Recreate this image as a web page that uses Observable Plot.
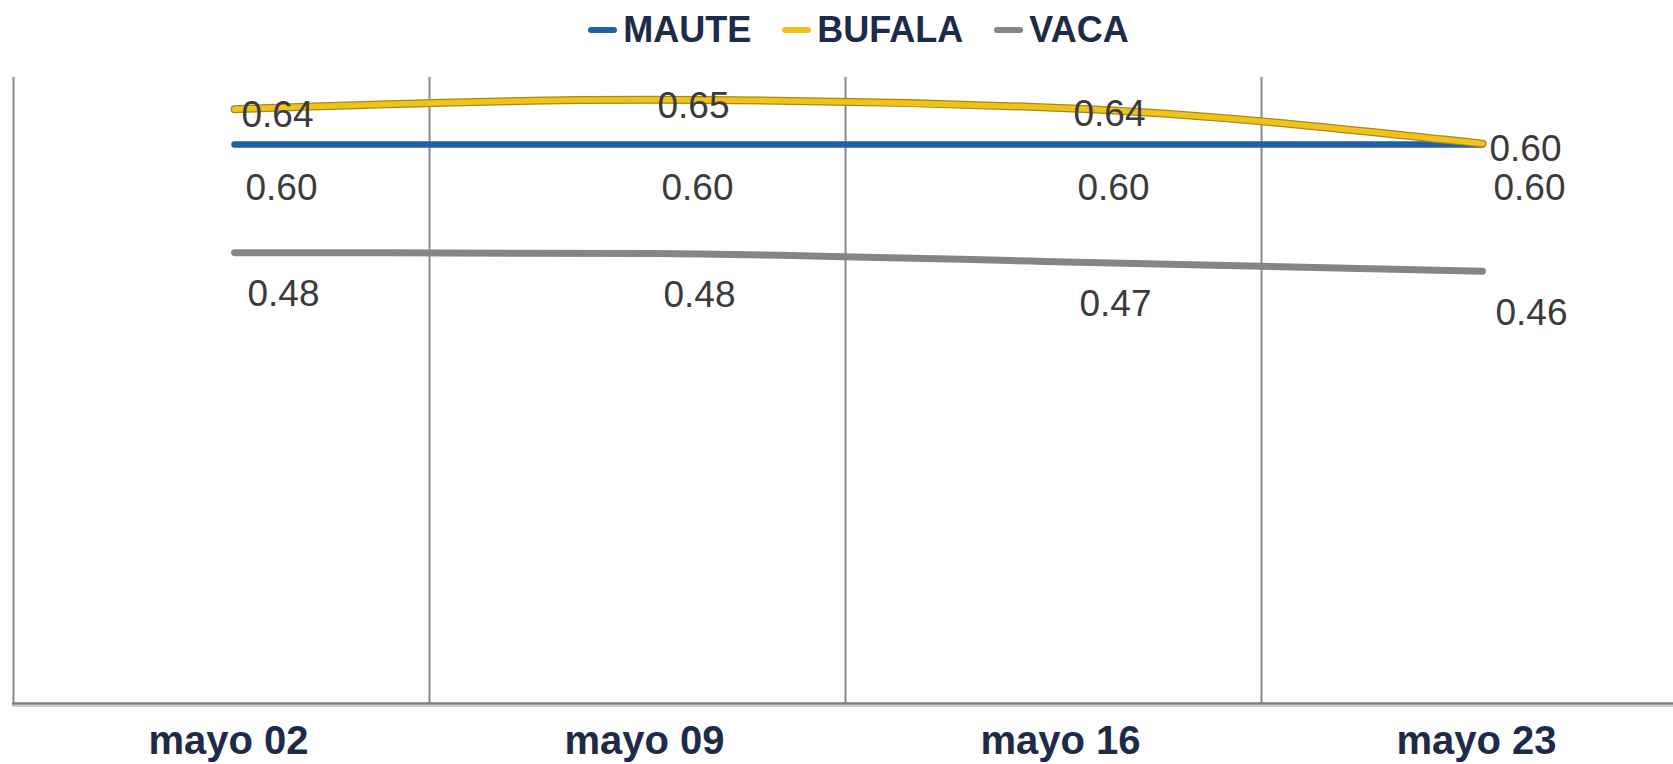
<!DOCTYPE html>
<html><head><meta charset="utf-8">
<script src="https://cdn.jsdelivr.net/npm/d3@7"></script>
<script src="https://cdn.jsdelivr.net/npm/@observablehq/plot@0.6"></script>
<style>
body{margin:0;background:#fff;font-family:"Liberation Sans",Arial,sans-serif;}
#legend{height:60px;display:flex;align-items:center;justify-content:center;padding-left:44px;box-sizing:border-box;}
.item{display:flex;align-items:center;margin:0 15.5px;font-weight:bold;font-size:36px;color:#1c2b48;line-height:1;}
.sw{width:29px;height:6px;border-radius:3px;margin-right:6px;}
#chart svg{display:block;overflow:visible;}
</style></head><body>
<div id="legend"></div>
<div id="chart"></div>
<script>
const fechas = ["mayo 02", "mayo 09", "mayo 16", "mayo 23"];
const series = ["MAUTE", "BUFALA", "VACA"];
const maute  = [0.600, 0.600, 0.600, 0.600];
const bufala = [0.638, 0.648, 0.639, 0.601];
const vaca   = [0.484, 0.483, 0.474, 0.464];
const colores = {MAUTE: "#1f60a8", BUFALA: "#f2c21b", VACA: "#858585"};
const valores = {MAUTE: maute, BUFALA: bufala, VACA: vaca};

const rows = series.flatMap(s => fechas.map((f, i) => ({serie: s, fecha: f, valor: valores[s][i]})));
const of = s => rows.filter(r => r.serie === s);

// legend
const leg = document.getElementById("legend");
for (const s of series) {
  const it = document.createElement("div"); it.className = "item";
  const sw = document.createElement("span"); sw.className = "sw"; sw.style.background = colores[s];
  it.appendChild(sw); it.appendChild(document.createTextNode(s)); leg.appendChild(it);
}

const labelOpts = {x: "fecha", y: "valor", text: d => d.valor.toFixed(2), fontSize: 37, fill: "#3b3b3b", textAnchor: "middle"};

const chart = Plot.plot({
  width: 1673, height: 704,
  marginTop: 17, marginBottom: 61, marginLeft: 12, marginRight: 0,
  style: {fontFamily: "'Liberation Sans', Arial, sans-serif", background: "#fff", color: "#1c2b48"},
  x: {type: "point", domain: fechas, padding: 0.4932, align: 0.5377, label: null},
  y: {domain: [0, 0.672], axis: null},
  marks: [
    Plot.ruleX(fechas, {x: d => d, dx: -221, stroke: "#8a8a8a", strokeWidth: 2}),
    Plot.ruleY([0], {stroke: "#d0d0d0", strokeWidth: 2, dy: 2.5}),
    Plot.ruleY([0], {stroke: "#7d7d7d", strokeWidth: 2.5}),
    Plot.axisX({tickSize: 0, tickPadding: 22, fontSize: 40, fontWeight: "bold", fill: "#1c2b48", dx: -6, label: null}),
    Plot.line(of("MAUTE"), {x: "fecha", y: "valor", stroke: colores.MAUTE, strokeWidth: 6.5}),
    Plot.line(of("VACA"), {x: "fecha", y: "valor", stroke: colores.VACA, strokeWidth: 7, curve: "monotone-x", strokeLinecap: "round"}),
    Plot.line(of("BUFALA"), {x: "fecha", y: "valor", stroke: "#a8891c", strokeWidth: 8, curve: "monotone-x"}),
    Plot.line(of("BUFALA"), {x: "fecha", y: "valor", stroke: colores.BUFALA, strokeWidth: 5.5, curve: "monotone-x"}),
    Plot.text(of("BUFALA"), {...labelOpts, dx: 43, dy: 6}),
    Plot.text(of("MAUTE"), {...labelOpts, dx: 47, dy: 44}),
    Plot.text(of("VACA"), {...labelOpts, dx: 49, dy: 42})
  ]
});
document.getElementById("chart").appendChild(chart);
</script>
</body></html>
